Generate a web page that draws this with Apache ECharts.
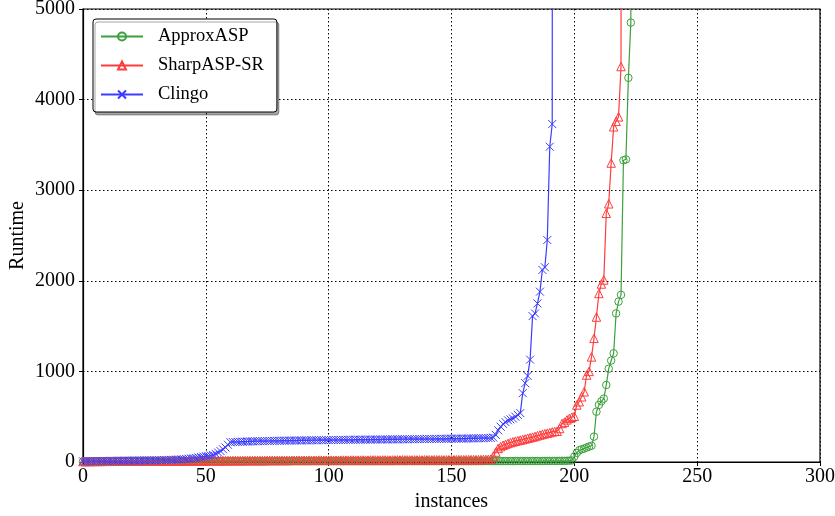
<!DOCTYPE html>
<html><head><meta charset="utf-8">
<script src="https://cdn.jsdelivr.net/npm/echarts@6/dist/echarts.min.js"></script>
<style>html,body{margin:0;padding:0;background:#fff}#c{width:835px;height:516px}</style>
</head><body><div id="c"></div>
<script>
// Tick labels
const xTicks = [0, 50, 100, 150, 200, 250, 300];
const yTicks = [0, 1000, 2000, 3000, 4000, 5000];
const seriesNames = ['ApproxASP', 'SharpASP-SR', 'Clingo'];

// Sorted runtimes per instance index (cactus plot)
const approxASP = [
  4,4,4,5,5,5,5,5,5,5, 5,5,5,5,6,6,6,6,6,6, 6,6,6,6,6,6,6,6,6,6,
  6,6,6,6,6,7,7,7,7,7, 7,7,7,7,7,7,7,7,7,7, 7,7,7,7,7,7,7,7,7,7,
  7,7,7,7,7,7,7,7,7,7, 7,7,7,7,7,7,7,8,8,8, 8,8,8,8,8,8,8,8,8,8,
  8,8,8,8,8,8,8,8,8,8, 8,8,8,8,8,8,8,8,8,8, 8,8,8,8,8,8,8,8,8,8,
  8,8,8,8,8,8,8,9,9,9, 9,9,9,9,9,9,9,9,9,9, 9,9,9,9,9,9,9,9,9,9,
  9,9,9,9,9,9,9,9,9,9, 9,9,10,10,10,10,10,10,10,10, 10,10,10,10,10,10,11,11,11,11,
  11,11,11,11,11,11,11,11,12,12, 12,12,12,12,13,13,13,14,15,17,
  60,100,130,140,148,160,170,180,280,555,
  630,670,700,850,1030,1120,1200,1640,1770,1845,
  3330,3340,4240,4850,60000
];
const sharpASPSR = [
  5,5,6,6,6,7,7,7,7,8, 8,8,8,8,9,9,9,9,9,10,
  10,10,10,10,10,11,11,11,11,11, 11,12,12,12,12,12,12,13,13,13,
  13,13,13,13,14,14,14,14,14,14, 14,15,15,15,15,15,15,15,16,16,
  16,16,16,16,16,16,17,17,17,17, 17,17,17,17,17,18,18,18,18,18,
  18,18,18,18,18,19,19,19,19,19, 19,19,19,19,19,20,20,20,20,20,
  20,20,20,20,20,20,21,21,21,21, 21,21,21,21,21,21,21,22,22,22,
  22,22,22,22,22,22,22,22,23,23, 23,23,23,23,23,23,23,23,23,24,
  24,24,24,24,24,24,24,24,24,25, 25,25,25,25,25,25,25,26,26,26,
  26,26,27,27,28,29,32,
  60,110,150,170,185,195,205,215,222,230,
  236,242,248,255,262,268,275,282,290,298,
  305,312,318,325,332,338,340,370,425,440,
  465,482,495,505,630,665,720,775,960,1000,
  1160,1365,1600,1860,1965,2010,2745,2850,3300,3700,
  3760,3810,4365,60000
];
const clingo = [
  8,9,9,10,10,11,11,11,12,12, 12,13,13,13,14,14,14,15,15,15,
  16,16,16,17,17,18,18,18,19,19, 20,20,21,22,22,23,24,25,26,27,
  29,31,33,36,39,42,46,50,55,60, 64,68,72,78,90,105,120,140,160,190,
  218,220,221,222,223,224,225,226,227,228, 229,229,230,231,231,232,232,233,233,234,
  234,235,235,236,236,237,237,237,238,238, 239,239,239,240,240,240,241,241,241,242,
  242,242,243,243,243,244,244,244,245,245, 245,246,246,246,246,247,247,247,248,248,
  248,248,249,249,249,250,250,250,250,251, 251,251,251,252,252,252,253,253,253,253,
  254,254,254,255,255,255,256,256,256,257, 257,257,258,258,258,259,259,260,260,261,
  261,262,262,263,264,265,266,270,
  300,350,390,420,440,460,470,480,500,520,
  540,760,870,950,1130,1610,1640,1750,1880,2120,
  2150,2450,3480,3730,60000
];

const colors = ['rgb(60,160,60)', 'rgb(255,60,60)', 'rgb(60,60,255)'];
const font = '"Liberation Serif","DejaVu Serif",serif';
const symCircle = 'path://M10,5A5,5 0 1 1 0,5A5,5 0 1 1 10,5Z';
const symTri = 'path://M5,0L10,9L0,9Z';
const symCross = 'path://M0,0L10,10M10,0L0,10';

function mk(name, arr, color, symbol, size) {
  return {
    name: name, type: 'line', data: arr.map((v, i) => [i, v]),
    symbol: symbol, symbolSize: size, showSymbol: true, showAllSymbol: true,
    lineStyle: { color: color, width: 1.2 },
    itemStyle: { color: 'rgba(255,255,255,0)', borderColor: color, borderWidth: 1 },
    emphasis: { disabled: true }, animation: false, clip: true
  };
}

const chart = echarts.init(document.getElementById('c'), null, { renderer: 'canvas' });
chart.setOption({
  animation: false,
  grid: { left: 83, right: 15, top: 9, bottom: 54, outerBoundsMode: 'none', containLabel: false,
          show: true, borderColor: '#000', borderWidth: 1.2, backgroundColor: 'transparent' },
  xAxis: {
    type: 'value', min: xTicks[0], max: xTicks[xTicks.length - 1], interval: 50,
    name: 'instances', nameLocation: 'middle', nameGap: 30, nameMoveOverlap: false,
    nameTextStyle: { fontFamily: font, fontSize: 20, color: '#000' },
    axisLine: { show: true, lineStyle: { color: '#000', width: 1.2 } },
    axisTick: { show: true, inside: false, length: 4, lineStyle: { color: '#000' } },
    axisLabel: { fontFamily: font, fontSize: 20, color: '#000', margin: 5 },
    splitLine: { show: true, lineStyle: { color: '#000', type: [1.5, 2.5], width: 1 } }
  },
  yAxis: {
    type: 'value', min: yTicks[0], max: yTicks[yTicks.length - 1], interval: 1000,
    name: 'Runtime', nameLocation: 'middle', nameGap: 55, nameMoveOverlap: false,
    nameTextStyle: { fontFamily: font, fontSize: 20, color: '#000' },
    axisLine: { show: true, lineStyle: { color: '#000', width: 1.2 } },
    axisTick: { show: true, inside: false, length: 4, lineStyle: { color: '#000' } },
    axisLabel: { fontFamily: font, fontSize: 20, color: '#000', margin: 8, formatter: v => String(v) },
    splitLine: { show: true, lineStyle: { color: '#000', type: [1.5, 2.5], width: 1 } }
  },
  legend: {
    orient: 'vertical', left: 93, top: 19,
    data: seriesNames,
    itemWidth: 42, itemHeight: 10, itemGap: 10,
    padding: [8, 13, 8, 7],
    backgroundColor: '#fff', borderColor: '#000', borderWidth: 1, borderRadius: 3,
    shadowColor: 'rgba(0,0,0,0.35)', shadowOffsetX: 2, shadowOffsetY: 3, shadowBlur: 0,
    textStyle: { fontFamily: font, fontSize: 18.5, color: '#000', padding: [0, 0, 0, 10] }
  },
  series: [
    mk(seriesNames[0], approxASP, colors[0], symCircle, 7.5),
    mk(seriesNames[1], sharpASPSR, colors[1], symTri, 8.5),
    mk(seriesNames[2], clingo, colors[2], symCross, 8)
  ]
});
</script></body></html>
